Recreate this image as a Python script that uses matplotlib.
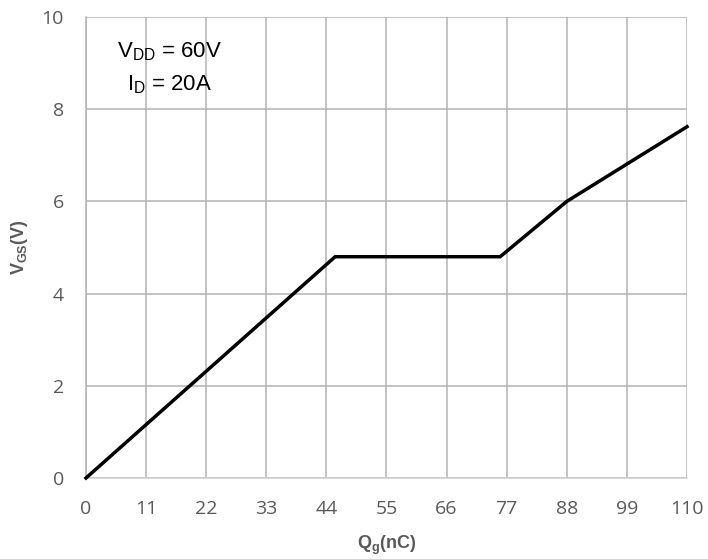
import matplotlib
matplotlib.use("Agg")
import matplotlib.pyplot as plt

# Data
qg = [0, 45.6, 75.8, 88.0, 110.0]
vgs = [0, 4.80, 4.80, 6.00, 7.62]
x_ticks = [0, 11, 22, 33, 44, 55, 66, 77, 88, 99, 110]
y_ticks = [0, 2, 4, 6, 8, 10]

plt.rcParams['mathtext.fontset'] = 'custom'
plt.rcParams['mathtext.rm'] = 'Liberation Sans'
plt.rcParams['mathtext.bf'] = 'Liberation Sans:bold'
plt.rcParams['mathtext.default'] = 'regular'

fig = plt.figure(figsize=(7.08, 5.59), dpi=100)
ax = fig.add_axes([86/708, 81/559, 601/708, 461/559])

grid_c = '#b4b1b1'
ax.set_xlim(0, 110)
ax.set_ylim(0, 10)
ax.set_xticks(x_ticks)
ax.set_yticks(y_ticks)
ax.grid(True, color=grid_c, linewidth=1.1)
ax.set_axisbelow(True)
for s in ['top', 'right']:
    ax.spines[s].set_visible(False)
ax.spines['left'].set_color(grid_c)
ax.spines['left'].set_linewidth(1.1)
ax.spines['bottom'].set_color('#d0cece')
ax.spines['bottom'].set_linewidth(1.1)
ax.tick_params(length=0, labelsize=14, labelcolor='#595959')
ax.tick_params(axis='y', pad=16)
ax.tick_params(axis='x', pad=16)
for lab in ax.get_xticklabels() + ax.get_yticklabels():
    lab.set_fontfamily('Open Sans')

ax.plot(qg, vgs, color='black', linewidth=2.5, solid_joinstyle='miter', clip_on=False, zorder=3)

ax.set_xlabel(r'$\mathbf{Q_{g}(nC)}$', fontsize=13, color='#595959', labelpad=11)
ax.set_ylabel(r'$\mathbf{V_{GS}(V)}$', fontsize=13, color='#595959', labelpad=8)

ax.text(170, 559 - 52, r'$V_{DD}$ = 60V', transform=None, fontsize=16, family='Liberation Sans',
        ha='center', va='center', color='black')
ax.text(170, 559 - 85, r'$I_{D}$ = 20A', transform=None, fontsize=16, family='Liberation Sans',
        ha='center', va='center', color='black')

fig.savefig('out.png', dpi=100)
